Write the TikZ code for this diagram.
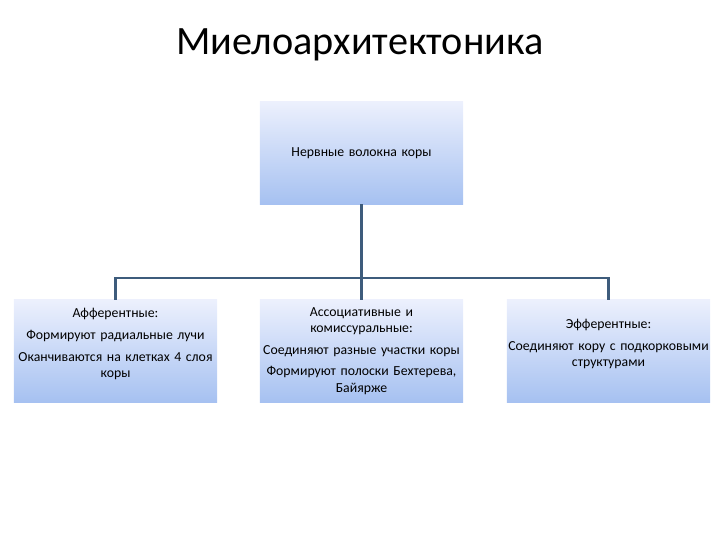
\documentclass[tikz,border=0pt]{standalone}
\usepackage{fontspec}
\setmainfont{Carlito}
\usepackage{tikz}
\definecolor{BoxTop}{RGB}{236,240,253}
\definecolor{BoxBottom}{RGB}{166,193,241}
\definecolor{LinkBlue}{RGB}{62,92,124}

\begin{document}
\begin{tikzpicture}[x=0.025cm, y=-0.025cm, font=\fontsize{9.8}{11.4}\selectfont,
  fiberbox/.style={top color=BoxTop, bottom color=BoxBottom, draw=none,
    minimum width=5.075cm, minimum height=2.55cm, inner sep=0pt,
    text width=5.07cm, align=center},
  link/.style={LinkBlue, line width=1.5pt}]
  \useasboundingbox (0,0) rectangle (720,540);
  \node (title) at (360,45) {\fontsize{28.6}{32}\selectfont Миелоархитектоника};
  \node[fiberbox] (fibers) at (361.5,153) {Нервные волокна коры};
  \node[fiberbox] (afferent) at (115.5,351) {%
    Афферентные:\\[4pt]
    Формируют радиальные лучи\\[4pt]
    Оканчиваются на клетках 4 слоя\\ коры\\ \mbox{}};
  \node[fiberbox] (assoc) at (361.5,351) {%
    Ассоциативные и\\ комиссуральные:\\[4pt]
    Соединяют разные участки коры\\[4pt]
    Формируют полоски Бехтерева,\\ Байярже};
  \node[fiberbox] (efferent) at (608.5,351) {%
    Эфферентные:\\[4pt]
    Соединяют кору с подкорковыми\\ структурами\\ \mbox{}};
  % tree connectors
  \coordinate (fork) at (361.5,278);
  \draw[link] (fibers.south) -- (fork);
  \draw[link] (fork) -| (afferent.north);
  \draw[link] (fork) -- (assoc.north);
  \draw[link] (fork) -| (efferent.north);
\end{tikzpicture}
\end{document}
